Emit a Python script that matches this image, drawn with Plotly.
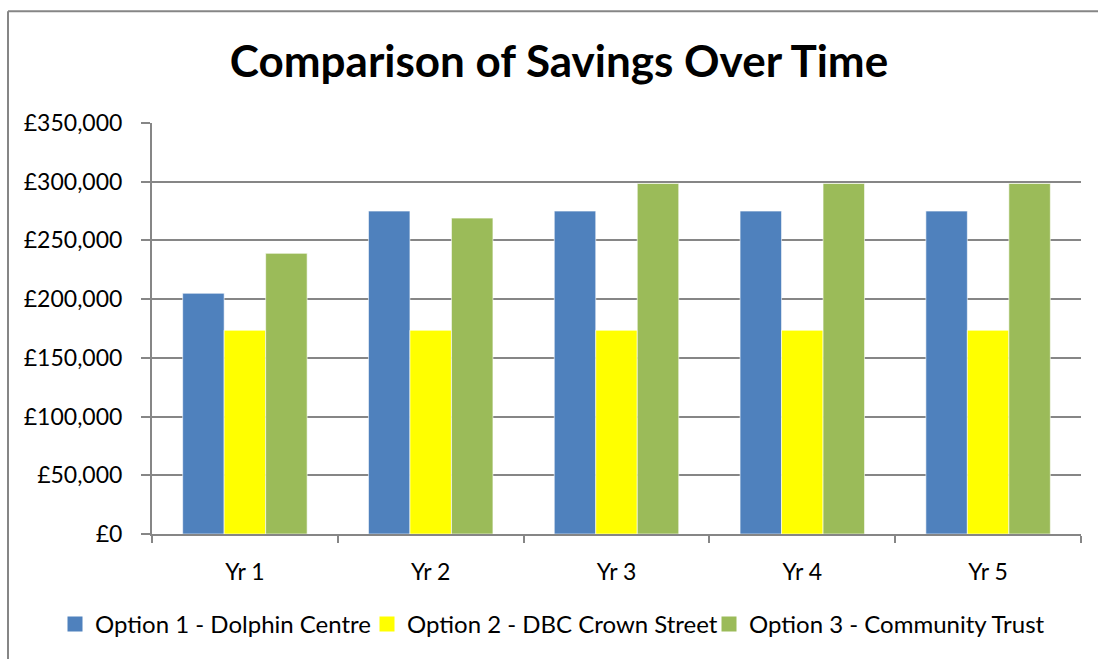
import plotly.graph_objects as go

categories = ["Yr 1", "Yr 2", "Yr 3", "Yr 4", "Yr 5"]
option1 = [205000, 275000, 275000, 275000, 275000]
option2 = [173500, 173500, 173500, 173500, 173500]
option3 = [239000, 269000, 298500, 298500, 298500]
series_names = ["Option 1 - Dolphin Centre", "Option 2 - DBC Crown Street", "Option 3 - Community Trust"]
colors = ["#4F81BD", "#FFFF00", "#9BBB59"]

W, H = 1098, 659
L, R, T, B = 152, 1081, 122.7, 535.7
pw, ph = R - L, B - T

legend_ids = ["legend", "legend2", "legend3"]
text_starts = [97, 409, 751]

fig = go.Figure()
for name, vals, c in zip(series_names, [option1, option2, option3], colors):
    fig.add_trace(go.Bar(x=categories, y=vals, name=name, showlegend=False, legendgroup=name,
                         marker=dict(color=c, line=dict(color="rgba(255,255,255,0.6)", width=1))))
# legend keys (square swatches) for each series
for name, c, lg in zip(series_names, colors, legend_ids):
    fig.add_trace(go.Scatter(x=[None], y=[None], mode="markers", name=name, legend=lg, legendgroup=name,
                             marker=dict(symbol="square", size=15, color=c), hoverinfo="skip"))

font = "Lato, 'Open Sans', sans-serif"
legend_common = dict(orientation="h", xref="paper", yref="paper", xanchor="left", yanchor="middle",
                     y=(B - 626.5) / ph, font=dict(size=24, color="black"), itemwidth=30,
                     bgcolor="rgba(0,0,0,0)", borderwidth=0)
legends = {}
for lg, ts in zip(legend_ids, text_starts):
    legends[lg] = dict(legend_common, x=(ts - 42 - L) / pw)

fig.update_layout(
    width=W, height=H,
    margin=dict(l=L, r=W - R, t=T, b=H - B),
    paper_bgcolor="white", plot_bgcolor="white",
    barmode="group", bargap=0.33, bargroupgap=0,
    font=dict(family=font, size=23, color="black"),
    title=dict(text="<b>Comparison of Savings Over Time</b>", x=559 / W, xanchor="center",
               y=1 - 62 / H, yanchor="middle", font=dict(size=44, family=font, color="black")),
    showlegend=True,
    xaxis=dict(showline=True, linecolor="#868686", linewidth=2, ticks="outside", tickson="boundaries",
               ticklen=7, tickcolor="#868686", tickwidth=2, showgrid=False, ticklabelstandoff=16,
               automargin=False),
    yaxis=dict(range=[0, 350000], dtick=50000, tickprefix="£", tickformat=",", showline=True,
               linecolor="#868686", linewidth=2, showgrid=True, gridcolor="#868686", gridwidth=2,
               ticks="outside", ticklen=9, tickcolor="#868686", tickwidth=2, zeroline=False,
               ticklabelstandoff=14, automargin=False),
    shapes=[
        dict(type="line", xref="paper", yref="paper", x0=(8 - L) / pw, x1=(8 - L) / pw,
             y0=(B - H - 5) / ph, y1=(B - 10.5) / ph, line=dict(color="#868686", width=2)),
        dict(type="line", xref="paper", yref="paper", x0=(8 - L) / pw, x1=(W + 5 - L) / pw,
             y0=(B - 10.5) / ph, y1=(B - 10.5) / ph, line=dict(color="#868686", width=2)),
    ],
    **legends,
)

fig.write_html("out.html", post_script="document.body.style.margin='0';",
               config={"displayModeBar": False})
